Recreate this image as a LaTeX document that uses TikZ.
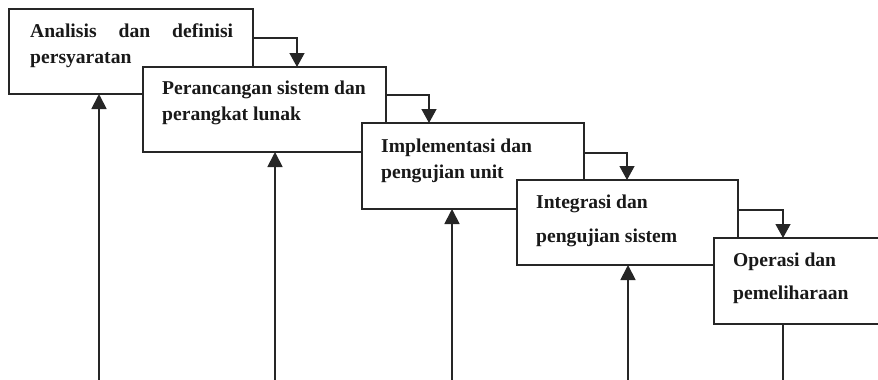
\documentclass[tikz,border=0pt]{standalone}
\usepackage{fontspec}
\setmainfont{Liberation Serif}
\usetikzlibrary{arrows.meta,calc}
\begin{document}
\begin{tikzpicture}[x=1pt,y=-1pt,
  box/.style={draw=black!85,line width=1.2pt,fill=white,anchor=north west,inner sep=0pt,outer sep=0pt},
  txt/.style={anchor=base west,inner sep=0pt,font=\fontsize{19.6}{23}\selectfont\bfseries,text=black!90},
  arr/.style={draw=black!85,line width=1.3pt,-{Triangle[width=15pt,length=14pt]}},
  fb/.style={draw=black!85,line width=1.8pt,-{Triangle[width=15pt,length=15pt]}},
  ln/.style={draw=black!85,line width=1.5pt}]
\useasboundingbox[fill=white] (0,0) rectangle (878,380);
% boxes
\node[box,minimum width=244pt,minimum height=85pt] (b1) at (9,9) {};
\node[box,minimum width=243pt,minimum height=85pt] (b2) at (143,67) {};
\node[box,minimum width=222pt,minimum height=86pt] (b3) at (362,123) {};
\node[box,minimum width=221pt,minimum height=85pt] (b4) at (517,180) {};
\node[box,minimum width=200pt,minimum height=86pt] (b5) at (714,238) {};
% texts
\node[txt] (t1a) at (30,37) {\makebox[203pt][s]{Analisis dan definisi}};
\node[txt] (t1b) at (30,63) {persyaratan};
\node[txt] (t2a) at (162,94) {Perancangan sistem dan};
\node[txt] (t2b) at (162,120) {perangkat lunak};
\node[txt] (t3a) at (381,152) {Implementasi dan};
\node[txt] (t3b) at (381,178) {pengujian unit};
\node[txt] (t4a) at (536,208) {Integrasi dan};
\node[txt] (t4b) at (536,242) {pengujian sistem};
\node[txt] (t5a) at (733,266) {Operasi dan};
\node[txt] (t5b) at (733,299) {pemeliharaan};
% forward connectors
\coordinate (c1) at (297,38);
\coordinate (c2) at (429,95);
\coordinate (c3) at (627,153);
\coordinate (c4) at (783,210);
\draw[arr] (c1 -| b1.east) -- (c1) -- (c1 |- b2.north);
\draw[arr] (c2 -| b2.east) -- (c2) -- (c2 |- b3.north);
\draw[arr] (c3 -| b3.east) -- (c3) -- (c3 |- b4.north);
\draw[arr] (c4 -| b4.east) -- (c4) -- (c4 |- b5.north);
% feedback
\coordinate (f1) at (99,381);
\coordinate (f2) at (275,381);
\coordinate (f3) at (452,381);
\coordinate (f4) at (628,381);
\coordinate (f5) at (783,381);
\draw[ln] (f5 |- b5.south) -- (f5);
\draw[draw=black!30,line width=1.5pt] (f1) -- (f5);
\draw[fb] (f1) -- (f1 |- b1.south);
\draw[fb] (f2) -- (f2 |- b2.south);
\draw[fb] (f3) -- (f3 |- b3.south);
\draw[fb] (f4) -- (f4 |- b4.south);
\end{tikzpicture}
\end{document}
